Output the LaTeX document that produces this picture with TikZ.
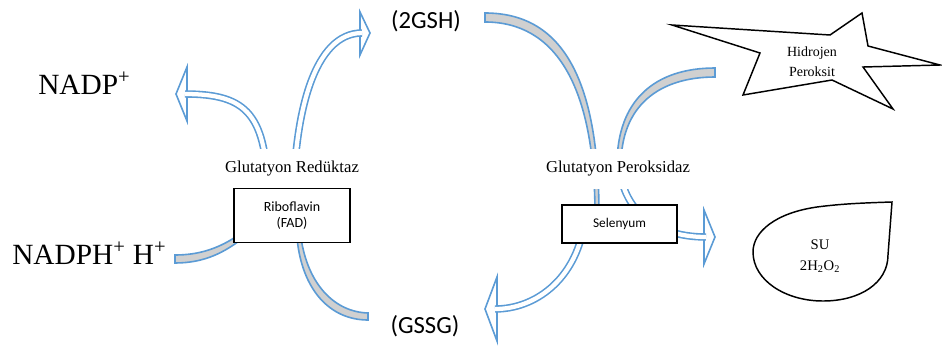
\documentclass[tikz,border=0pt]{standalone}
\usepackage{fontspec}
\setmainfont{Liberation Serif}
\newfontfamily\calibri{Carlito}
\definecolor{arrowblue}{RGB}{91,155,213}
\definecolor{bandgray}{RGB}{208,208,208}
\tikzset{
band/.style={draw=arrowblue, fill=bandgray, line width=1.2pt},
shaft/.style={draw=arrowblue, double=white, line width=1.2pt, double distance=3.2pt},
hollowtip/.style={draw=arrowblue, fill=white, line width=1.2pt},
enzyme/.style={fill=white, minimum height=30pt, inner xsep=2pt, font=\fontsize{12.5}{14}\selectfont},
cofactor/.style={draw, fill=white, line width=1.1pt, align=center, font=\calibri\fontsize{10.5}{12}\selectfont},
blob/.style={draw, line width=1.1pt, fill=white}
}

\begin{document}
\begin{tikzpicture}[x=0.75pt, y=-0.75pt]
\useasboundingbox (0,0) rectangle (942,347);

% NADPH -> NADP+
\draw[band] (175,255) .. controls (200,255) and (220,248) .. (240,234) -- (243,238) .. controls (225,252) and (205,263) .. (175,263) -- cycle;
\draw[hollowtip] (187,67) -- (176,94) -- (187,121) -- cycle;
\draw[shaft] (268,200) .. controls (267,115) and (248,94) .. (185,94);

% GSSG -> 2GSH
\draw[band] (297,238) .. controls (302,290) and (330,320) .. (368,320) -- (368,313) .. controls (335,312) and (308,285) .. (301,238) -- cycle;
\draw[hollowtip] (360,12) -- (370,33) -- (360,55) -- cycle;
\draw[shaft] (293,215) .. controls (293,110) and (315,33) .. (362,33);

% 2GSH -> GSSG
\draw[band] (485,13) .. controls (560,13) and (599,75) .. (599,215) -- (595,215) .. controls (595,85) and (555,22) .. (485,22) -- cycle;
\draw[hollowtip] (497,277) -- (485,309) -- (497,341) -- cycle;
\draw[shaft] (584,225) .. controls (575,280) and (535,309) .. (495,309);

% H2O2 -> SU
\draw[band] (715,68) .. controls (655,68) and (617,100) .. (617,165) -- (621,165) .. controls (621,105) and (660,77) .. (715,77) -- cycle;
\draw[hollowtip] (704,210) -- (715,237) -- (704,264) -- cycle;
\draw[shaft] (619,160) .. controls (620,205) and (650,237) .. (706,237);

% enzymes and cofactors
\node[enzyme] (gr) at (292,169) {Glutatyon Redüktaz};
\node[enzyme] (gpx) at (618,169) {Glutatyon Peroksidaz};
\node[cofactor, minimum width=87pt, minimum height=40.5pt] (fad) at (292,215.5) {Riboflavin\\(FAD)};
\node[cofactor, minimum width=86pt, minimum height=28.5pt, font=\calibri\fontsize{10}{12}\selectfont] (se) at (619.5,224) {Selenyum};

% substrates
\node[anchor=base west, inner sep=0, font=\fontsize{22}{26}\selectfont] (nadp) at (38,94) {NADP\textsuperscript{+}};
\node[anchor=base west, inner sep=0, font=\fontsize{22}{26}\selectfont] (nadph) at (12,264) {NADPH\textsuperscript{+} H\textsuperscript{+}};
\node[anchor=base, inner sep=0, font=\calibri\fontsize{18.5}{22}\selectfont] (gsh) at (426,28.5) {(2GSH)};
\node[anchor=base, inner sep=0, font=\calibri\fontsize{18.5}{22}\selectfont] (gssg) at (425,333) {(GSSG)};

% hydrogen peroxide and water
\draw[blob] (672,25) -- (830,35) -- (862,13) -- (868,46) -- (940,65) -- (863,67) -- (893,109) -- (832,80) -- (743,95) -- (760,53) -- cycle;
\node[align=center, font=\fontsize{10.5}{15}\selectfont] (hp) at (812,62) {Hidrojen\\Peroksit};
\draw[blob] (892,202) .. controls (860,203) and (840,204) .. (817,207) .. controls (775,213) and (753,232) .. (753,252) .. controls (753,280) and (785,301) .. (823,301) .. controls (860,301) and (888,283) .. (888,255) -- cycle;
\node[align=center, font=\fontsize{11}{16}\selectfont] (su) at (820,256) {SU\\2H\textsubscript{2}O\textsubscript{2}};
\end{tikzpicture}
\end{document}
